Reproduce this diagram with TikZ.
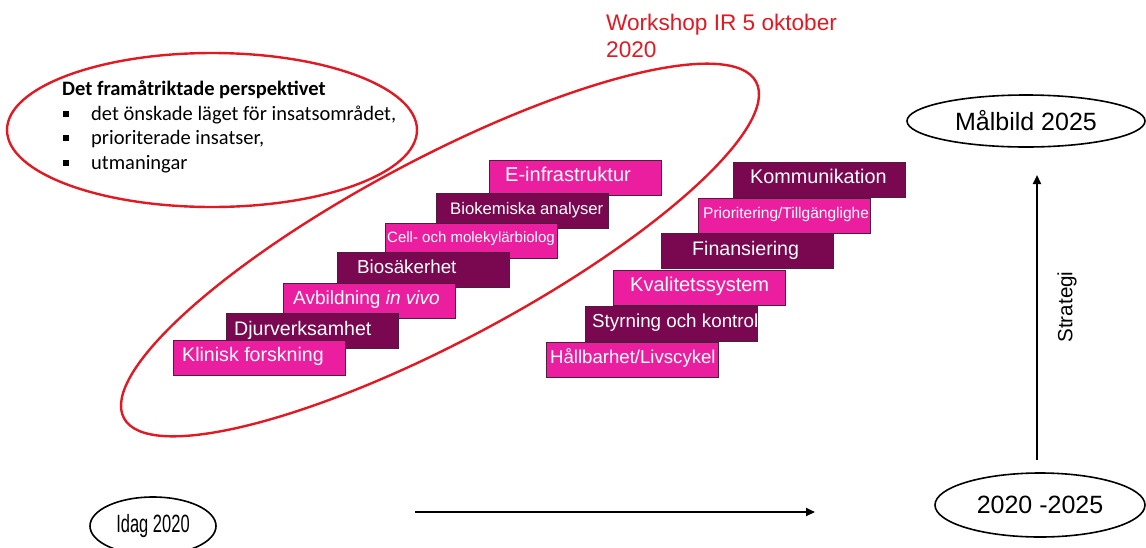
\documentclass[tikz,border=0pt]{standalone}
\usepackage{fontspec}
\setmainfont{Liberation Sans}
\newfontfamily\calibri{Carlito}
\usetikzlibrary{shapes.geometric,arrows.meta}
\definecolor{boxpink}{RGB}{236,30,160}
\definecolor{boxdark}{RGB}{122,8,80}
\definecolor{boxline}{RGB}{80,30,60}
\definecolor{wsred}{RGB}{225,25,35}
\newcommand{\bul}{\hspace{1pt}\makebox[28pt][l]{\raisebox{3.5pt}{\rule{6pt}{6pt}}}}
\newcommand{\fsz}[1]{\fontsize{#1}{#1}\selectfont}
\tikzset{
 stepbox/.style={draw=boxline, line width=0.8pt, minimum width=172pt, minimum height=35pt, inner sep=0pt},
 pinkbox/.style={stepbox, fill=boxpink},
 darkbox/.style={stepbox, fill=boxdark},
 boxtext/.style={anchor=base west, inner sep=0pt, text=white},
 oval/.style={ellipse, draw=black, line width=1.6pt, inner sep=0pt},
 redring/.style={draw=wsred, line width=2.4pt},
 timearrow/.style={line width=2pt, -{Triangle[length=9pt,width=8pt]}}
}
\begin{document}
\begin{tikzpicture}[x=1pt,y=-1pt]
\useasboundingbox (0,0) rectangle (1146,547);
% left staircase
\node[pinkbox] (l1) at (575,177.5) {};
\node[boxtext, font=\fsz{20}] (l1t) at (505,181.7) {E-infrastruktur};
\node[darkbox] (l2) at (522,211) {};
\node[boxtext, font=\fsz{16.7}] (l2t) at (450,214) {Biokemiska analyser};
\node[pinkbox] (l3) at (471.5,240.5) {};
\node[boxtext, font=\fsz{15}] (l3t) at (387,242.9) {Cell- och molekylärbiolog};
\node[darkbox] (l4) at (423,269.5) {};
\node[boxtext, font=\fsz{18.8}] (l4t) at (357,273.2) {Biosäkerhet};
\node[pinkbox] (l5) at (369.5,300.5) {};
\node[boxtext, font=\fsz{19}] (l5t) at (293,304.3) {Avbildning \textit{in vivo}};
\node[darkbox] (l6) at (312.5,331) {};
\node[boxtext, font=\fsz{19.6}] (l6t) at (234,335) {Djurverksamhet};
\node[pinkbox] (l7) at (259,357.5) {};
\node[boxtext, font=\fsz{19.6}] (l7t) at (182,361.5) {Klinisk forskning};
% right staircase
\node[darkbox] (r1) at (819,179.5) {};
\node[boxtext, font=\fsz{19.8}] (r1t) at (750,183.6) {Kommunikation};
\node[pinkbox] (r2) at (784,215.5) {};
\node[boxtext, font=\fsz{15.5}] (r2t) at (703,218) {Prioritering/Tillgänglighe};
\node[darkbox] (r3) at (747,251) {};
\node[boxtext, font=\fsz{19.6}] (r3t) at (692,255) {Finansiering};
\node[pinkbox] (r4) at (699,287.5) {};
\node[boxtext, font=\fsz{20}] (r4t) at (630,291.7) {Kvalitetssystem};
\node[darkbox] (r5) at (671.5,324) {};
\node[boxtext, font=\fsz{18.8}] (r5t) at (592,327.7) {Styrning och kontrol};
\node[pinkbox] (r6) at (632,359.5) {};
\node[boxtext, font=\fsz{18.6}] (r6t) at (550,363.2) {Hållbarhet/Livscykel};
% red rings
\draw[redring] (212,130) ellipse [x radius=205, y radius=77];
\draw[redring, rotate around={28:(440,250)}] (440,250) ellipse [x radius=358, y radius=91];
% texts
\node[anchor=north west, inner sep=0pt, align=left, text=wsred, font=\fontsize{22.6}{27}\selectfont] (ws) at (606,14) {Workshop IR 5 oktober\\2020};
\node[anchor=north west, inner sep=0pt, align=left, font=\calibri\fontsize{20.5}{24.5}\selectfont] (persp) at (62,80.5)
 {\textbf{Det framåtriktade perspektivet}\\ \bul det önskade läget för insatsområdet,\\ \bul prioriterade insatser,\\ \bul utmaningar};
% time ovals
\node[oval, minimum width=238pt, minimum height=52pt, font=\fsz{25}] (malbild) at (1026,121) {Målbild 2025};
\node[oval, minimum width=210pt, minimum height=64pt, font=\fsz{25}] (period) at (1040,505) {2020 -2025};
\node[oval, minimum width=126pt, minimum height=58pt, font=\fsz{25}] (idag) at (153,526) {\scalebox{0.66}[1]{Idag 2020}};
% arrows
\coordinate (sBot) at (1037,460);
\coordinate (sTop) at (1037,175);
\draw[timearrow] (sBot) -- (sTop);
\node[rotate=90, inner sep=0pt, font=\fsz{20.6}] (strat) at (1067,307) {Strategi};
\coordinate (hStart) at (415,512);
\coordinate (hEnd) at (815,512);
\draw[timearrow] (hStart) -- (hEnd);
\end{tikzpicture}
\end{document}
